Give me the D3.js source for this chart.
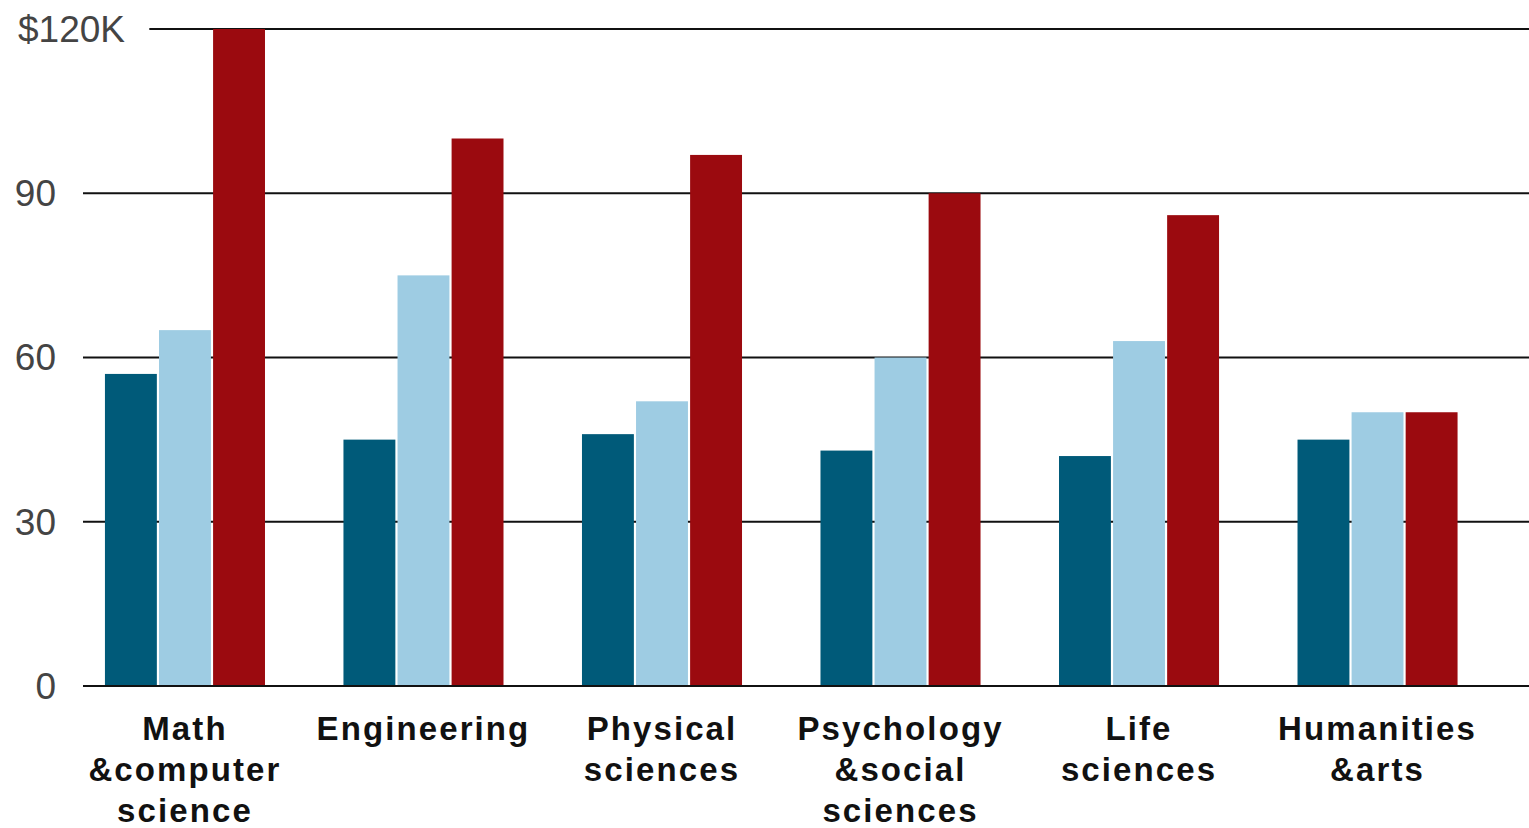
<!DOCTYPE html>
<html>
<head>
<meta charset="utf-8">
<script src="https://cdn.jsdelivr.net/npm/d3@7"></script>
<style>
  html, body { margin: 0; padding: 0; background: #fff; }
  svg { display: block; }
</style>
</head>
<body>
<svg id="chart" width="1529" height="828"></svg>
<script>
const categories = [
  ["Math", "&computer", "science"],
  ["Engineering"],
  ["Physical", "sciences"],
  ["Psychology", "&social", "sciences"],
  ["Life", "sciences"],
  ["Humanities", "&arts"]
];
const seriesNames = ["s1", "s2", "s3"];
const series1 = [57, 45, 46, 43, 42, 45];
const series2 = [65, 75, 52, 60, 63, 50];
const series3 = [120, 100, 97, 90, 86, 50];
const yTicks = [0, 30, 60, 90, 120];
const yTickLabels = ["0", "30", "60", "90", "$120K"];
const colors = ["#005a79", "#9ecce3", "#9b0a0f"];

const svg = d3.select("#chart");
const W = 1529;
const x0Start = 83;

const y = d3.scaleLinear().domain([0, 120]).range([686, 29]);
const catIdx = categories.map((d, i) => i);
const x0 = d3.scaleBand().domain(catIdx).range([83, 1479.5]).paddingInner(0.329).paddingOuter(0.092);
const x1 = d3.scaleBand().domain(seriesNames).range([0, x0.bandwidth()]).paddingInner(0.04);

const allSeries = [series1, series2, series3];

// gridlines and tick labels
const tickG = svg.append("g");
yTicks.forEach((t, i) => {
  const isTop = i === yTicks.length - 1;
  const txt = tickG.append("text")
    .attr("y", y(t))
    .attr("dy", "0.35em")
    .attr("font-family", "Liberation Sans, Arial, sans-serif")
    .attr("font-size", 37)
    .attr("fill", "#444")
    .text(yTickLabels[i]);
  let lineStart = x0Start;
  if (isTop) {
    txt.attr("x", 18).attr("text-anchor", "start");
    const bb = txt.node().getBBox();
    lineStart = bb.x + bb.width + 24;
  } else {
    txt.attr("x", 56).attr("text-anchor", "end");
  }
  tickG.append("line")
    .attr("x1", lineStart).attr("x2", W)
    .attr("y1", y(t)).attr("y2", y(t))
    .attr("stroke", "#111").attr("stroke-width", 2);
});

// bars
const groups = svg.append("g").selectAll("g")
  .data(catIdx).join("g")
  .attr("transform", d => `translate(${x0(d)},0)`);

groups.selectAll("rect")
  .data(d => seriesNames.map((s, k) => ({ s, k, v: allSeries[k][d] })))
  .join("rect")
  .attr("x", d => x1(d.s))
  .attr("width", x1.bandwidth())
  .attr("y", d => y(d.v))
  .attr("height", d => y(0) - y(d.v))
  .attr("fill", d => colors[d.k]);

// baseline on top
svg.append("line")
  .attr("x1", x0Start).attr("x2", W)
  .attr("y1", y(0)).attr("y2", y(0))
  .attr("stroke", "#111").attr("stroke-width", 2);

// category labels
const labG = svg.append("g");
categories.forEach((lines, i) => {
  const cx = x0(i) + x0.bandwidth() / 2;
  const t = labG.append("text")
    .attr("text-anchor", "middle")
    .attr("font-family", "Liberation Sans, Arial, sans-serif")
    .attr("font-weight", "bold")
    .attr("font-size", 33)
    .attr("letter-spacing", "2.1px")
    .attr("fill", "#111");
  lines.forEach((ln, j) => {
    t.append("tspan").attr("x", cx).attr("y", 740 + j * 41).text(ln);
  });
});
</script>
</body>
</html>
